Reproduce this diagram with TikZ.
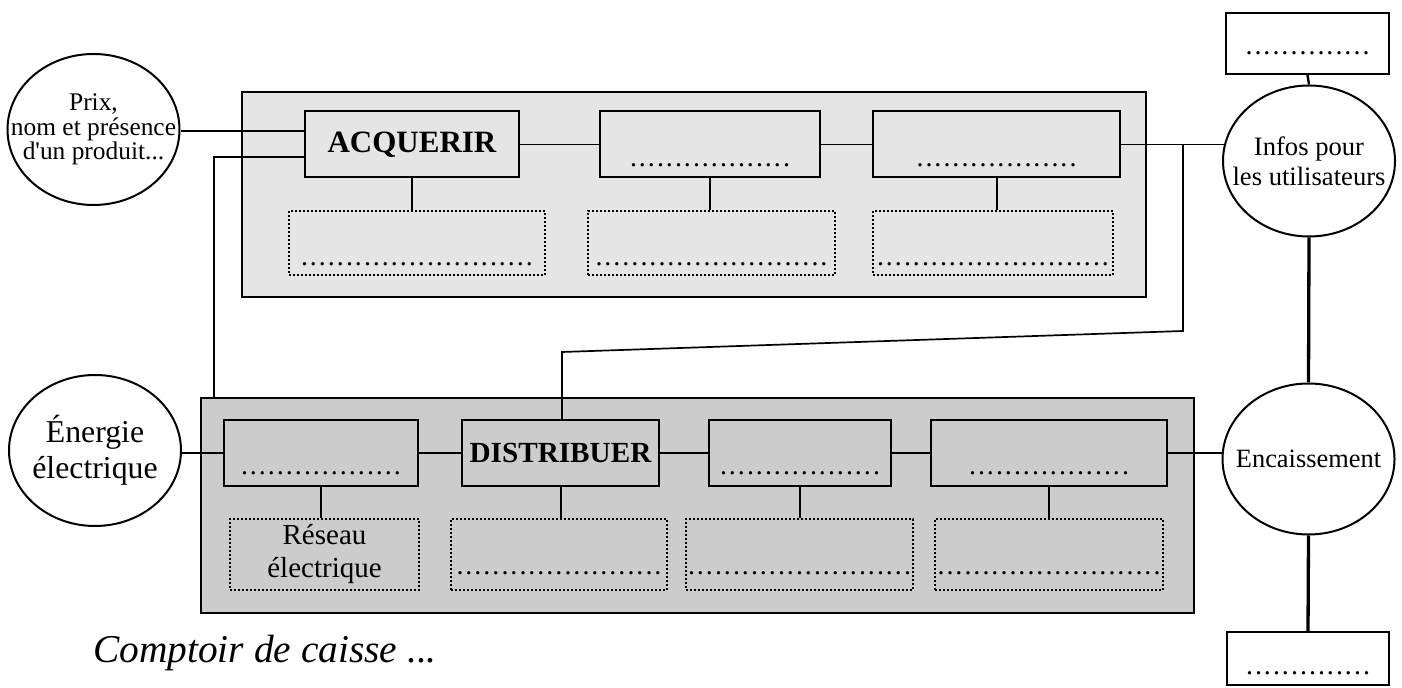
\documentclass[tikz,border=0pt]{standalone}
\usepackage{fontspec}
\setmainfont{Liberation Serif}[Ligatures=TeXOff]
\usetikzlibrary{shapes.geometric}
\definecolor{gclair}{gray}{0.9}
\definecolor{gfonce}{gray}{0.8}
% ligne de points a completer
\newcommand\pointille[1]{\ifnum#1>0 \kern0.5pt.\kern0.5pt\expandafter\pointille\expandafter{\the\numexpr#1-1\relax}\fi}

\begin{document}
\begin{tikzpicture}[x=0.5pt,y=-0.5pt,
	cadre/.style={draw,line width=1pt,inner sep=0pt},
	fct/.style={draw,line width=1pt,inner sep=0pt,minimum height=33pt},
	pts/.style={fct,font=\fontsize{14}{14}\selectfont,text depth=0pt,text height=#1},
	sol/.style={draw,line width=0.9pt,dash pattern=on 1pt off 1pt,inner sep=0pt,
		font=\fontsize{14}{14}\selectfont,text depth=0pt,text height=#1},
	flux/.style={ellipse,draw,fill=white,line width=1pt,inner sep=0pt,
		minimum width=86pt,minimum height=75.5pt},
	lien/.style={line width=0.85pt}]
\useasboundingbox (0,0) rectangle (1402,688);
% les deux chaines
\node[cadre,fill=gclair,minimum width=452pt,minimum height=102.5pt] (info) at (694,194.5) {};
\node[cadre,fill=gfonce,minimum width=496.5pt,minimum height=107.5pt] (nrjch) at (697.5,505.5) {};
% chaine d'information
\node[fct,minimum width=107pt,font=\bfseries\fontsize{15.5}{16}\selectfont] (acq) at (412,144.5) {ACQUERIR};
\node[pts=22.5pt,minimum width=110pt] (f2) at (710,144.5) {\pointille{18}};
\node[pts=22.5pt,minimum width=123.5pt] (f3) at (996.5,144.5) {\pointille{18}};
\node[sol=22.5pt,minimum width=128pt,minimum height=32pt] (s1) at (417,243) {\pointille{26}};
\node[sol=22.5pt,minimum width=123.5pt,minimum height=32pt] (s2) at (711.5,243) {\pointille{26}};
\node[sol=22.5pt,minimum width=120pt,minimum height=32pt] (s3) at (993,243) {\pointille{26}};
% chaine d'energie
\node[pts=22pt,minimum width=97pt] (g1) at (321,453) {\pointille{18}};
\node[fct,minimum width=98.5pt,font=\bfseries\fontsize{14.6}{15}\selectfont] (dist) at (560.5,453) {DISTRIBUER};
\node[pts=22pt,minimum width=91pt] (g3) at (800,453) {\pointille{18}};
\node[pts=22pt,minimum width=118pt] (g4) at (1049,453) {\pointille{18}};
\node[draw,line width=0.9pt,dash pattern=on 1pt off 1pt,inner sep=0pt,minimum width=94.5pt,minimum height=35.5pt,
	align=center,font=\fontsize{14.5}{16.5}\selectfont] (t1) at (324.5,554.5) {Réseau\\électrique};
\node[sol=20pt,minimum width=108pt,minimum height=35.5pt] (t2) at (559,554.5) {\pointille{23}};
\node[sol=20pt,minimum width=113.5pt,minimum height=35.5pt] (t3) at (799.5,554.5) {\pointille{25}};
\node[sol=20pt,minimum width=114pt,minimum height=35.5pt] (t4) at (1049,554.5) {\pointille{25}};
% entrees / sorties
\node[flux,label={[align=center,font=\fontsize{12.7}{12.3}\selectfont]center:{Prix,\\nom et présence\\d'un produit...}}] (prix) at (93.5,129.5) {};
\node[flux,label={[align=center,font=\fontsize{15.9}{18}\selectfont]center:{Énergie\\électrique}}] (energie) at (95,450.5) {};
\node[flux,label={[align=center,font=\fontsize{13.3}{15}\selectfont]center:{Infos pour\\les utilisateurs}}] (infos) at (1309,161) {};
\node[flux,label={[font=\fontsize{13.2}{15}\selectfont]center:Encaissement}] (enc) at (1308.5,459) {};
\node[cadre,fill=white,minimum width=81.5pt,minimum height=30.5pt,font=\fontsize{14}{14}\selectfont,
	text depth=0pt,text height=11pt] (ext1) at (1307.5,43.5) {\pointille{14}};
\node[cadre,fill=white,minimum width=81pt,minimum height=26.5pt,font=\fontsize{14}{14}\selectfont,
	text depth=0pt,text height=16pt] (ext2) at (1308,658.5) {\pointille{14}};
\node[anchor=base,font=\itshape\fontsize{19.7}{20}\selectfont] (titre) at (265,663) {Comptoir de caisse ...};
% liaisons
\coordinate (in1) at ([yshift=6.75pt]acq.west);
\coordinate (in2) at ([yshift=-6.25pt]acq.west);
\coordinate (alim) at (214,398);
\coordinate (br) at (1183,144.5);
\coordinate (k1) at (1183,331);
\coordinate (k2) at (562,352);
\draw[lien] (in1 -| prix.east) -- (in1);
\draw[lien] (in2) -| (alim);
\draw[lien] (g1.west -| energie.east) -- (g1.west);
\foreach \a/\b in {acq/f2,f2/f3,g1/dist,dist/g3,g3/g4}
	\draw[lien] (\a) -- (\b);
\foreach \a/\b in {acq/s1,f2/s2,f3/s3,g1/t1,dist/t2,g3/t3,g4/t4}
	\draw[lien,line width=1pt] (\a.south) -- (\a.south |- \b.north);
\draw[lien] (f3.east) -- (f3.east -| infos.169);
\draw[lien] (br) -- (k1) -- (k2) -- (k2 |- dist.north);
\draw[lien] (g4.east) -- (g4.east -| enc.west);
\draw[lien,line width=1.2pt] (ext1.south) -- (infos.north);
\draw[lien,line width=1.65pt] (infos.south) -- (enc.north);
\draw[lien,line width=1.65pt] (enc.south) -- (ext2.north);
\end{tikzpicture}
\end{document}
